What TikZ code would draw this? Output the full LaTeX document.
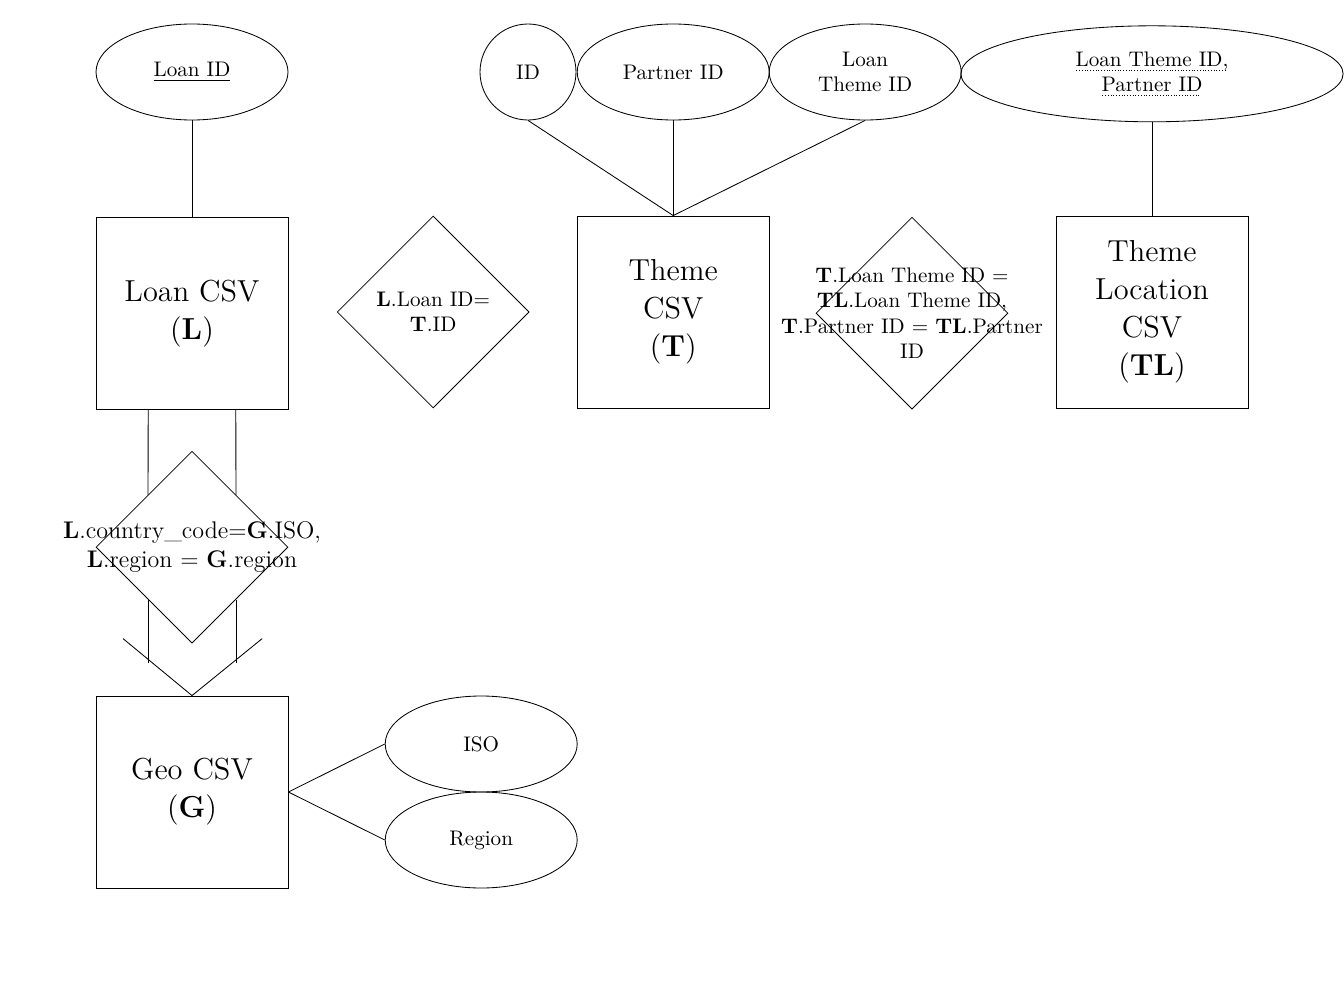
\documentclass[tikz,border=0pt]{standalone}
\usepackage{tikz}
\usetikzlibrary{shapes,calc}
\newcommand\dotunder[1]{\setbox0=\hbox{#1}\leavevmode\rlap{\raisebox{-2.2pt}{\hbox to \wd0{\leaders\hbox to 1.3pt{\hss\rule{0.45pt}{0.45pt}\hss}\hfill}}}\box0}

\begin{document}
\begin{tikzpicture}
\tikzstyle{every node}+=[inner sep=0pt]
\tikzstyle{entity}=[draw,rectangle,minimum size=3.2cm,font=\Large,align=center]
\tikzstyle{attr}=[draw,ellipse,minimum width=3.2cm,minimum height=1.6cm,align=center]
\tikzstyle{rel}=[draw,diamond,minimum width=3.2cm,minimum height=3.2cm]
\useasboundingbox (0,0) rectangle (22.4,-16.8);
\node[attr] (loanid) at (3.2,-1.2) {\underline{Loan ID}};
\node[draw,circle,minimum size=1.6cm] (id) at (8.8,-1.2) {ID};
\node[attr] (partnerid) at (11.22,-1.2) {Partner ID};
\node[attr] (themeid) at (14.42,-1.2) {Loan\\Theme ID};
\node[attr,minimum width=6.37cm] (tlkey) at (19.2,-1.23) {\dotunder{Loan Theme ID,}\\\dotunder{Partner ID}};
\node[entity] (loan) at (3.2,-5.22) {Loan CSV\\(\textbf{L})};
\node[entity] (theme) at (11.22,-5.2) {Theme\\CSV\\(\textbf{T})};
\node[entity] (tl) at (19.2,-5.2) {Theme\\Location\\CSV\\(\textbf{TL})};
\node[entity] (geo) at (3.2,-13.2) {Geo CSV\\(\textbf{G})};
\node[attr] (iso) at (8.02,-12.4) {ISO};
\node[attr] (region) at (8.02,-14.0) {Region};
\node[rel,label={[align=center]center:{\textbf{L}.Loan ID=\\\textbf{T}.ID}}] (lt) at (7.22,-5.2) {};
\node[rel,label={[align=center]center:{\textbf{T}.Loan Theme ID =\\\textbf{TL}.Loan Theme ID,\\\textbf{T}.Partner ID = \textbf{TL}.Partner\\ID}}] (ttl) at (15.2,-5.22) {};
\node[rel,label={[align=center,font=\fontsize{11.4}{13.7}\selectfont]center:{\textbf{L}.country\_code=\textbf{G}.ISO,\\\textbf{L}.region = \textbf{G}.region}}] (lg) at (3.2,-9.12) {};
\draw (loanid.south) -- (loan.north);
\draw (id.south) -- (theme.north);
\draw (partnerid.south) -- (theme.north);
\draw (themeid.south) -- (theme.north);
\draw (tlkey.south) -- (tl.north);
\draw (geo.east) -- (iso.west);
\draw (geo.east) -- (region.west);
\coordinate (la) at ($(lg.north)!0.456!(lg.west)$);
\coordinate (lb) at ($(lg.north)!0.456!(lg.east)$);
\coordinate (lc) at ($(lg.south)!0.456!(lg.west)$);
\coordinate (ld) at ($(lg.south)!0.456!(lg.east)$);
\coordinate (va) at ($(geo.north)+(-1.15,0.95)$);
\coordinate (vb) at ($(geo.north)+(1.17,0.95)$);
\draw ([xshift=-0.73cm]loan.south) -- (la);
\draw ([xshift=0.73cm]loan.south) -- (lb);
\draw (lc) -- ++(0,-1.06);
\draw (ld) -- ++(0,-1.06);
\draw (va) -- (geo.north) -- (vb);
\end{tikzpicture}
\end{document}
